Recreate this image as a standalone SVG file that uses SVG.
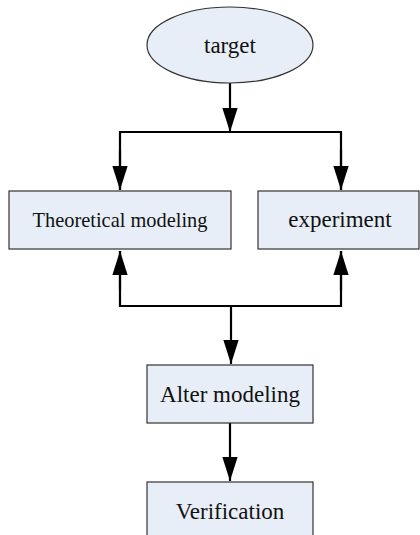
<svg xmlns="http://www.w3.org/2000/svg" width="420" height="535" viewBox="0 0 420 535">
<style>
.box{fill:#E8EEF7;stroke:#333;stroke-width:1.2}
.lbl{font-family:"Liberation Serif","Times New Roman",serif;font-size:23px;fill:#111;text-anchor:middle}
.ln{fill:none;stroke:#000;stroke-width:2.2}
</style>
<defs>
<marker id="ah" markerUnits="userSpaceOnUse" markerWidth="24" markerHeight="16" viewBox="0 0 22 14" refX="22" refY="7" orient="auto">
<path d="M0,0 L22,7 L0,14 Z" fill="#000"/>
</marker>
</defs>
<rect width="420" height="535" fill="#fff"/>
<g id="connectors">
<line class="ln" x1="230" y1="83" x2="230" y2="132" marker-end="url(#ah)"/>
<polyline class="ln" points="120,190 120,132 341,132 341,190"/>
<line class="ln" x1="120" y1="150" x2="120" y2="190" marker-end="url(#ah)"/>
<line class="ln" x1="341" y1="150" x2="341" y2="190" marker-end="url(#ah)"/>
<polyline class="ln" points="120,251 120,306 341,306 341,251"/>
<line class="ln" x1="120" y1="290" x2="120" y2="251" marker-end="url(#ah)"/>
<line class="ln" x1="341" y1="290" x2="341" y2="251" marker-end="url(#ah)"/>
<line class="ln" x1="231" y1="306" x2="231" y2="364" marker-end="url(#ah)"/>
<line class="ln" x1="230" y1="423" x2="230" y2="481" marker-end="url(#ah)"/>
</g>
<g id="target">
<ellipse class="box" cx="230" cy="45" rx="83" ry="38"/>
<text class="lbl" x="230" y="53">target</text>
</g>
<g id="theoretical">
<rect class="box" x="9" y="191" width="222" height="58"/>
<text class="lbl" x="120" y="227" style="font-size:20.4px">Theoretical modeling</text>
</g>
<g id="experiment">
<rect class="box" x="258" y="191" width="161" height="58"/>
<text class="lbl" x="340" y="227">experiment</text>
</g>
<g id="alter">
<rect class="box" x="147" y="365" width="166" height="58"/>
<text class="lbl" x="230" y="402">Alter modeling</text>
</g>
<g id="verification">
<rect class="box" x="147" y="482" width="166" height="62"/>
<text class="lbl" x="230" y="519">Verification</text>
</g>
</svg>
